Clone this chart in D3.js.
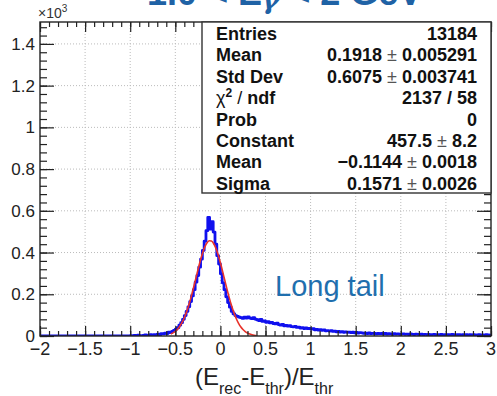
<!DOCTYPE html>
<html><head><meta charset="utf-8">
<script src="https://cdn.jsdelivr.net/npm/d3@7"></script>
<style>
html,body{margin:0;padding:0;background:#fff;}
svg{display:block;font-family:"Liberation Sans",Arial,Helvetica,sans-serif;}
</style></head>
<body>
<script>
// ---- data ----
const binLow = -2, binWidth = 0.02;
const counts = [
  0,0,0,0,0,0,0,0,0,0, 0,0,0,0,0,0,0,0,0,0,
  0,0,0,0,0,0,0,0,0,0, 0,0,0,0,0,0,0,0,0,0,
  0,0,0,0,0,0,0,0,0,0,
  2,0,3,1,4,2,0,3,5,2,4,6,3,7,5,
  9,6,11,10,14,12,18,16,22,27,
  33,40,52,64,80,
  98,118,140,165,192,
  222,258,290,330,368,
  410,455,505,568,512,548,498,440,385,345,
  298,255,222,188,160,138,118,106,98,94,
  90,88,84,90,86,91,86,83,88,81,
  78,74,79,70,72,66,69,63,65,60,
  58,61,55,52,56,49,51,47,50,45,
  44,46,41,43,38,40,36,39,35,37,
  33,35,30,32,28,30,27,29,25,26,
  24,26,22,23,20,22,19,21,18,20,
  18,19,16,18,15,17,14,16,15,13,
  14,12,15,11,13,12,10,13,11,12,
  10,12,9,11,10,8,11,9,10,8,
  9,10,8,9,7,10,8,7,9,8,
  7,9,6,8,7,8,6,7,8,6,
  7,6,8,5,7,6,7,5,8,6,
  5,7,6,5,6,4,7,5,6,5,
  6,4,5,6,4,5,3,6,5,4
];
// Gaussian fit curve
const fitX = [-0.55,-0.525,-0.5,-0.475,-0.45,-0.425,-0.4,-0.375,-0.35,-0.325,-0.3,-0.275,-0.25,-0.225,-0.2,-0.175,-0.15,-0.125,-0.1,-0.075,-0.05,-0.025,0,0.025,0.05,0.075,0.1,0.125,0.15,0.175,0.2,0.225,0.25,0.275,0.3,0.325,0.35,0.375,0.4];
const fitY = [9.8,15.0,22.5,32.8,46.8,64.8,87.7,115.6,148.7,186.4,227.8,271.4,315.3,357.1,394.4,424.7,445.9,456.5,455.6,443.3,420.6,389.1,351.0,308.7,264.6,221.2,180.3,143.3,111.0,83.9,61.8,44.3,31.1,21.2,14.1,9.1,5.8,3.6,2.1];
const xTicks = [-2,-1.5,-1,-0.5,0,0.5,1,1.5,2,2.5,3];
const yTicks = [0,200,400,600,800,1000,1200,1400];
const statLabels = ["Entries","Mean","Std Dev","χ2 / ndf","Prob","Constant","Mean","Sigma"];
const statValues = ["13184","0.1918 ± 0.005291","0.6075 ± 0.003741","2137 / 58","0","457.5 ± 8.2","−0.1144 ± 0.0018","0.1571 ± 0.0026"];

// ---- layout ----
const W = 497, H = 396;
const L = 40, R = 491, T = 22, B = 336;
const svg = d3.select("body").append("svg").attr("width", W).attr("height", H);
const x = d3.scaleLinear().domain([-2, 3]).range([L, R]);
const y = d3.scaleLinear().domain([0, 1505]).range([B, T]);
const fmtMinus = s => String(s).replace("-", "−");

// grid
const grid = svg.append("g").attr("stroke", "#bbb").attr("stroke-dasharray", "1,2").attr("stroke-width", 1);
xTicks.slice(1, -1).forEach(v => grid.append("line").attr("x1", x(v)).attr("x2", x(v)).attr("y1", T).attr("y2", B));
yTicks.slice(1).forEach(v => grid.append("line").attr("x1", L).attr("x2", R).attr("y1", y(v)).attr("y2", y(v)));

// clip
svg.append("clipPath").attr("id", "clip").append("rect").attr("x", L).attr("y", T).attr("width", R - L).attr("height", B - T);

// histogram
const pts = [];
counts.forEach((c, i) => {
  const e0 = binLow + i * binWidth, e1 = e0 + binWidth;
  pts.push([e0, c]); pts.push([e1, c]);
});
const line = d3.line().x(d => x(d[0])).y(d => y(d[1]));
const plot = svg.append("g").attr("clip-path", "url(#clip)");
plot.append("path").attr("d", line(pts)).attr("fill", "none").attr("stroke", "#1010ee").attr("stroke-width", 2.8).attr("stroke-linejoin", "round");
plot.append("path").attr("d", d3.line().x((d, i) => x(fitX[i])).y(d => y(d)).curve(d3.curveMonotoneX)(fitY))
  .attr("fill", "none").attr("stroke", "#e8322a").attr("stroke-width", 1.6);

// axes ticks (inward)
function ticksGroup(axisFn, scale, vals, size) {
  return axisFn(scale).tickValues(vals).tickSize(size).tickFormat("");
}
const minorX = d3.range(-20, 31).map(v => v / 10);
const minorY = d3.range(0, 1505, 40);
const ax = svg.append("g").attr("class", "ticks");
ax.append("g").attr("transform", `translate(0,${B})`).call(ticksGroup(d3.axisBottom, x, minorX, -5));
ax.append("g").attr("transform", `translate(0,${B})`).call(ticksGroup(d3.axisBottom, x, xTicks, -10));
ax.append("g").attr("transform", `translate(0,${T})`).call(ticksGroup(d3.axisTop, x, minorX, -5));
ax.append("g").attr("transform", `translate(0,${T})`).call(ticksGroup(d3.axisTop, x, xTicks, -10));
ax.append("g").attr("transform", `translate(${L},0)`).call(ticksGroup(d3.axisLeft, y, minorY, -7));
ax.append("g").attr("transform", `translate(${L},0)`).call(ticksGroup(d3.axisLeft, y, yTicks, -14));
ax.append("g").attr("transform", `translate(${R},0)`).call(ticksGroup(d3.axisRight, y, minorY, -7));
ax.append("g").attr("transform", `translate(${R},0)`).call(ticksGroup(d3.axisRight, y, yTicks, -14));
ax.selectAll(".domain").remove();
ax.selectAll("line").attr("stroke", "#222").attr("stroke-width", 1.2);

// frame
svg.append("rect").attr("x", L).attr("y", T).attr("width", R - L).attr("height", B - T).attr("fill", "none").attr("stroke", "#222").attr("stroke-width", 1.4);

// tick labels
svg.append("g").selectAll("text").data(xTicks).join("text")
  .attr("x", d => x(d)).attr("y", 355).attr("text-anchor", "middle").attr("font-size", 18).attr("fill", "#222")
  .text(d => fmtMinus(d));
svg.append("g").selectAll("text").data(yTicks).join("text")
  .attr("x", 35).attr("y", d => y(d) + 6).attr("text-anchor", "end").attr("font-size", 17).attr("fill", "#222")
  .text(d => d / 1000);
const mult = svg.append("text").attr("x", 38).attr("y", 18).attr("font-size", 14).attr("fill", "#333");
mult.append("tspan").text("×10");
mult.append("tspan").attr("dy", -6).attr("font-size", 10).text("3");

// x title
const xt = svg.append("text").attr("x", 195).attr("y", 385).attr("font-size", 24).attr("fill", "#222");
xt.append("tspan").text("(E");
xt.append("tspan").attr("font-size", 16).attr("dy", 9).text("rec");
xt.append("tspan").attr("dy", -9).text("-E");
xt.append("tspan").attr("font-size", 16).attr("dy", 9).text("thr");
xt.append("tspan").attr("dy", -9).text(")/E");
xt.append("tspan").attr("font-size", 16).attr("dy", 9).text("thr");

// title (cropped at top)
const tt = svg.append("text").attr("x", 147).attr("y", 5).attr("font-size", 36).attr("font-weight", "bold").attr("fill", "#1f62a5");
tt.append("tspan").text("1.0 < E");
tt.append("tspan").attr("font-size", 26).attr("dy", 4).attr("font-style", "italic").attr("font-family", "DejaVu Serif").text("γ");
tt.append("tspan").attr("dy", -4).text(" < 2 GeV");

// Long tail annotation
svg.append("text").attr("x", 275).attr("y", 296).attr("font-size", 29).attr("fill", "#1f6fae").text("Long tail");

// stats box
const bx0 = 202, by0 = 22, bx1 = 491, by1 = 193;
svg.append("rect").attr("x", bx0).attr("y", by0).attr("width", bx1 - bx0).attr("height", by1 - by0)
  .attr("fill", "#fff").attr("stroke", "#333").attr("stroke-width", 1.4);
const rowY = i => 40 + i * 21.4;
const sg = svg.append("g").attr("font-size", 18).attr("font-weight", "bold").attr("fill", "#111");
statLabels.forEach((lab, i) => {
  const t = sg.append("text").attr("x", 216).attr("y", rowY(i));
  if (lab.startsWith("χ2")) {
    t.append("tspan").attr("font-weight", "normal").text("χ");
    t.append("tspan").attr("font-size", 12).attr("dy", -7).text("2");
    t.append("tspan").attr("dy", 7).attr("font-weight", "normal").text(" / ");
    t.append("tspan").text("ndf");
  } else t.text(lab);
});
statValues.forEach((val, i) => {
  const t = sg.append("text").attr("x", 477).attr("y", rowY(i)).attr("text-anchor", "end");
  const parts = val.split("±");
  if (parts.length === 2) {
    t.append("tspan").text(parts[0]);
    t.append("tspan").attr("font-weight", "normal").attr("fill", "#555").text("±");
    t.append("tspan").text(parts[1]);
  } else t.text(val);
});
</script>
</body></html>
